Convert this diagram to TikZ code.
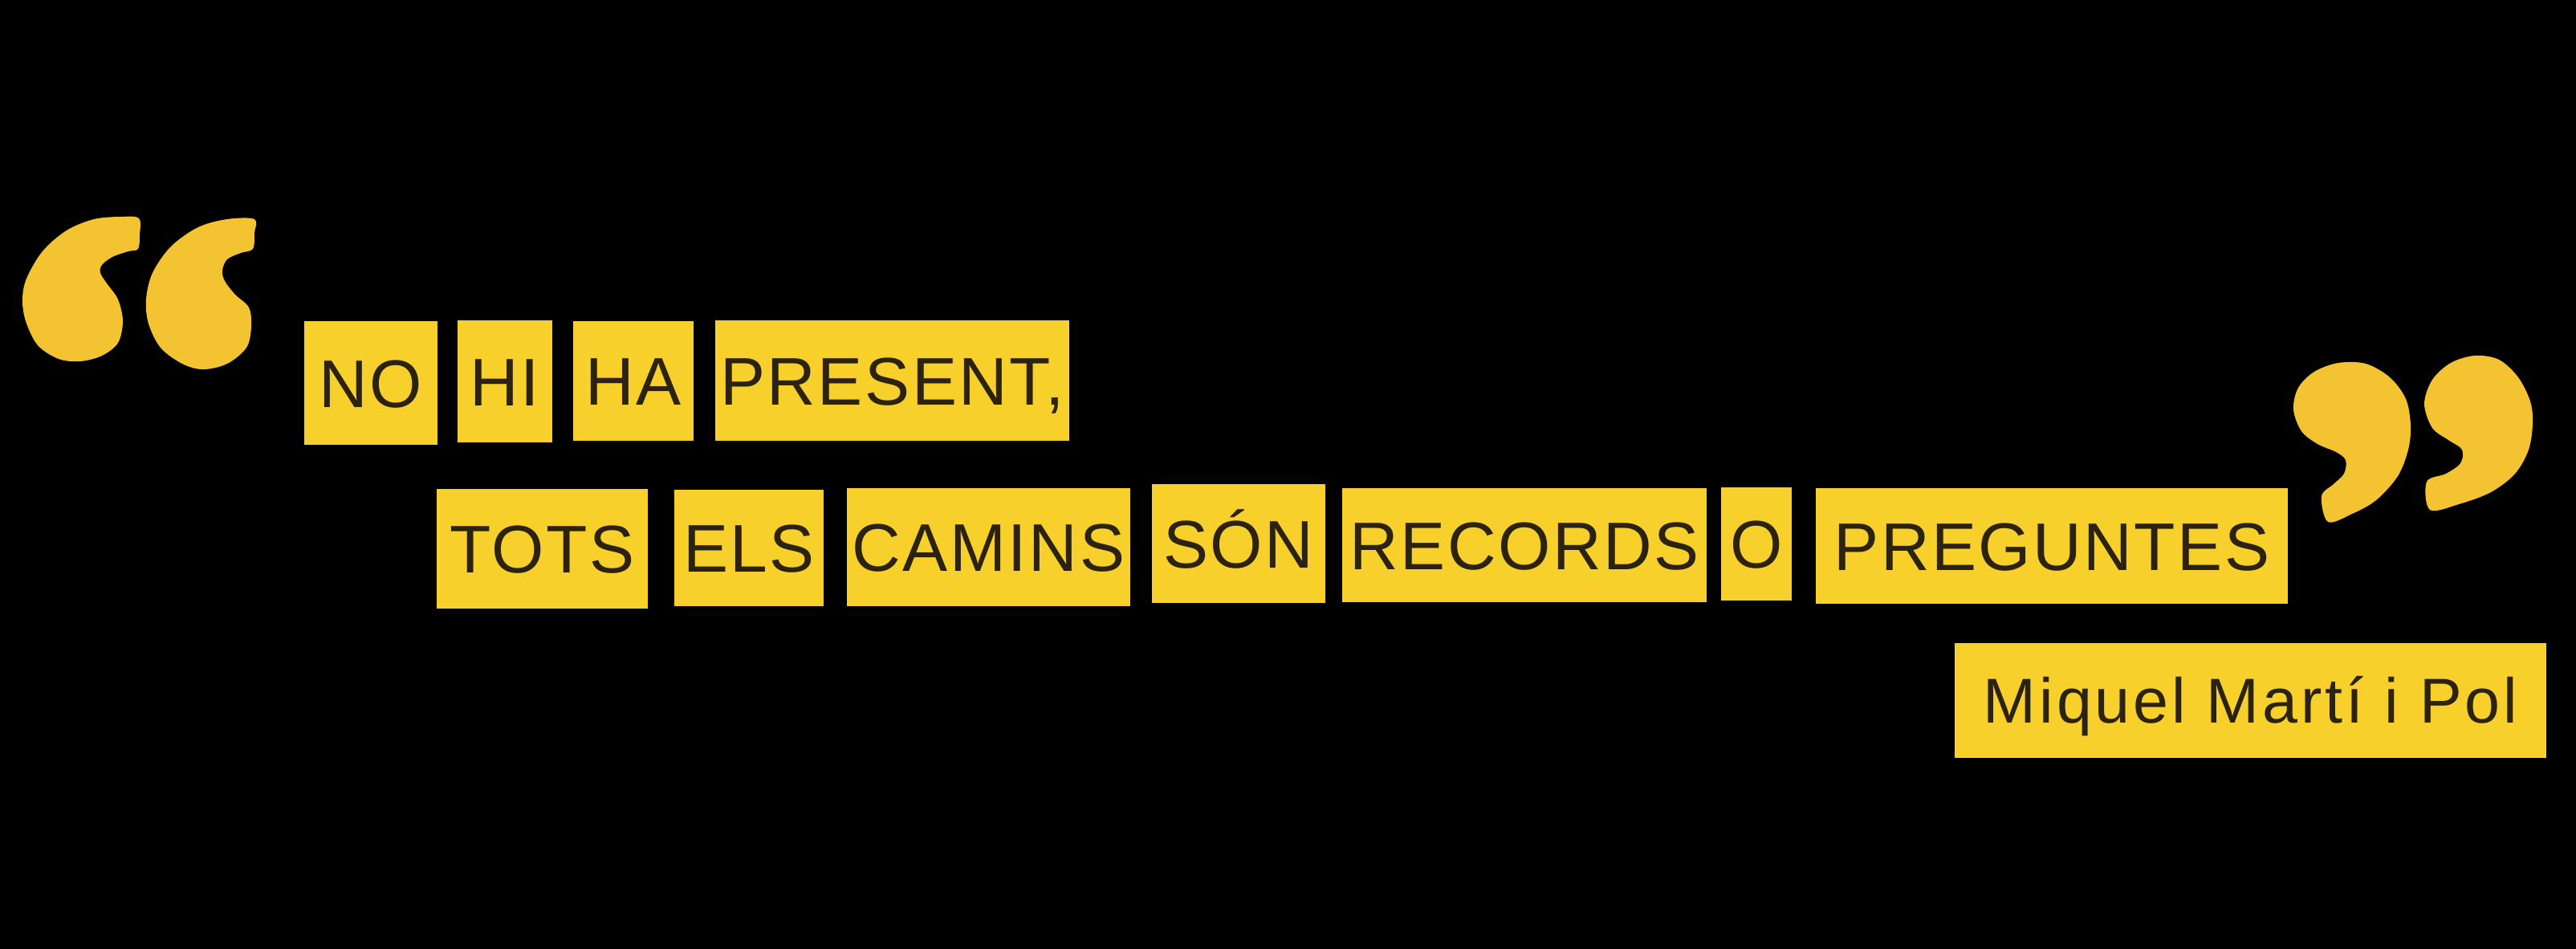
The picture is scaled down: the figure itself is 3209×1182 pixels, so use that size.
\documentclass[tikz,border=0pt]{standalone}
\usepackage{fontspec}
\newfontfamily\wordfont{Liberation Sans}[LetterSpace=3]
\newfontfamily\authorfont{Liberation Sans}[LetterSpace=5]
\definecolor{boxyellow}{HTML}{F8D02C}
\definecolor{quoteyellow}{HTML}{F4C332}
\definecolor{inkc}{HTML}{2B2210}
\tikzset{
  word/.style={fill=boxyellow, text=inkc, inner sep=0pt,
    font={\wordfont\fontsize{84}{96}\selectfont},
    text height=60pt, text depth=0pt, anchor=center},
  authorbox/.style={word, font={\authorfont\fontsize{79}{92}\selectfont},
    text height=56.5pt},
  quoteshape/.style={fill=quoteyellow, draw=none}
}
\begin{document}
\begin{tikzpicture}[x=1pt,y=-1pt]
\fill[black] (0,0) rectangle (3209,1182);
\useasboundingbox (0,0) rectangle (3209,1182);

% opening quote
\fill[quoteyellow] plot[smooth cycle, tension=0.55] coordinates {
 (173,272) (150,270) (117,273) (83,287) (53,313) (33,347) (28,373) (32,400)
 (47,430) (73,447) (100,450) (127,443) (147,427) (153,400) (147,373)
 (133,353) (125,340) (127,330) (140,320) (160,313) (172,310) (174,293)};
\fill[quoteyellow] plot[smooth cycle, tension=0.55] coordinates {
 (317,273) (283,273) (247,283) (213,307) (190,340) (182,373) (185,403)
 (200,433) (227,453) (253,460) (283,453) (307,433) (313,407) (310,383)
 (293,367) (280,350) (277,337) (283,323) (300,315) (315,310) (317,290)};

% closing quote
\fill[quoteyellow] plot[smooth cycle, tension=0.55] coordinates {
 (2857,510) (2863,483) (2883,463) (2913,452) (2947,453) (2977,470)
 (2997,497) (3003,530) (3000,560) (2987,593) (2960,623) (2930,640)
 (2900,650) (2892,618) (2907,603) (2920,590) (2922,573) (2910,563)
 (2887,553) (2867,537)};
\fill[quoteyellow] plot[smooth cycle, tension=0.55] coordinates {
 (3020,503) (3030,473) (3053,452) (3083,443) (3113,448) (3137,470)
 (3152,500) (3155,527) (3150,560) (3133,590) (3103,613) (3063,628)
 (3027,635) (3023,600) (3047,590) (3065,577) (3067,560) (3050,548)
 (3030,533)};

% row 1
\node[word, minimum width=166pt, minimum height=154pt] (no) at (462,477) {NO};
\node[word, minimum width=118pt, minimum height=152pt] (hi) at (629,475) {HI};
\node[word, minimum width=150pt, minimum height=149pt] (ha) at (789,474) {HA};
\node[word, minimum width=441pt, minimum height=150pt] (present) at (1111.5,474) {PRESENT,};

% row 2
\node[word, minimum width=263pt, minimum height=149pt] (tots) at (675.5,683.5) {TOTS};
\node[word, minimum width=186pt, minimum height=145pt] (els) at (933,682.5) {ELS};
\node[word, minimum width=353pt, minimum height=147pt] (camins) at (1231.5,681.5) {CAMINS};
\node[word, minimum width=216pt, minimum height=148pt] (son) at (1543,677) {SÓN};
\node[word, minimum width=454pt, minimum height=142pt] (records) at (1899,679) {RECORDS};
\node[word, minimum width=88pt, minimum height=141pt] (o) at (2188,677.5) {O};
\node[word, minimum width=588pt, minimum height=144pt] (preguntes) at (2556,680) {PREGUNTES};

% author
\node[authorbox, minimum width=737pt, minimum height=143pt] (author) at (2803.5,872) {Miquel Martí i Pol};
\end{tikzpicture}
\end{document}
